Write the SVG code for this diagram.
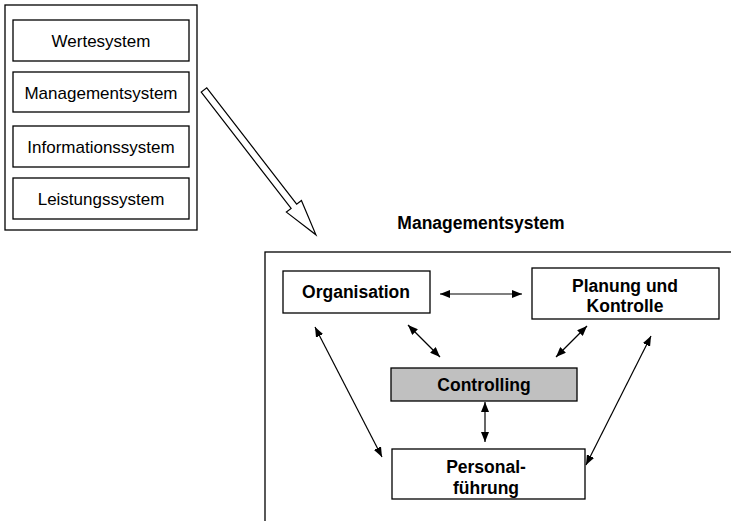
<svg xmlns="http://www.w3.org/2000/svg" width="731" height="521" viewBox="0 0 731 521">
<style>
.box{fill:#fff;stroke:#000;stroke-width:1.3}
.gray{fill:#c0c0c0;stroke:#000;stroke-width:1.3}
.t{font-family:"Liberation Sans",Arial,sans-serif;font-size:17px;text-anchor:middle;dominant-baseline:central;fill:#000}
.b{font-weight:bold;font-size:17.5px}
.c{stroke:#000;stroke-width:1.2;fill:none;marker-start:url(#ah);marker-end:url(#ah)}
</style>
<defs>
<marker id="ah" viewBox="0 0 10 8" refX="10" refY="4" markerWidth="10" markerHeight="8" markerUnits="userSpaceOnUse" orient="auto-start-reverse">
<path d="M0,0 L10,4 L0,8 Z" fill="#000"/>
</marker>
</defs>
<rect width="731" height="521" fill="#fff"/>
<g id="systeme">
<rect class="box" x="5" y="5" width="192" height="225"/>
</g>
<g id="wertesystem"><rect class="box" x="13" y="20" width="176" height="41"/><text class="t" x="101" y="41">Wertesystem</text></g>
<g id="managementsystem"><rect class="box" x="13" y="72" width="176" height="40"/><text class="t" x="101" y="93">Managementsystem</text></g>
<g id="informationssystem"><rect class="box" x="13" y="126" width="176" height="41"/><text class="t" x="101" y="147">Informationssystem</text></g>
<g id="leistungssystem"><rect class="box" x="13" y="178" width="176" height="41"/><text class="t" x="101" y="199">Leistungssystem</text></g>
<g id="bigarrow">
<polygon transform="translate(204,90) rotate(52.3)" points="0,-3.5 147,-3.5 147,-9.5 183,0 147,9.5 147,3.5 0,3.5" fill="#fff" stroke="#000" stroke-width="1.2"/>
</g>
<g id="ms-title"><text class="t b" x="481" y="223">Managementsystem</text></g>
<g id="ms-frame"><rect class="box" x="265" y="252" width="480" height="290"/></g>
<g id="organisation"><rect class="box" x="283" y="271" width="147" height="42"/><text class="t b" x="356" y="292">Organisation</text></g>
<g id="planung"><rect class="box" x="532" y="268" width="187" height="51"/><text class="t b" x="625" y="286">Planung und</text><text class="t b" x="625" y="306">Kontrolle</text></g>
<g id="controlling"><rect class="gray" x="391" y="368" width="186" height="33"/><text class="t b" x="484" y="385">Controlling</text></g>
<g id="personal"><rect class="box" x="392" y="449" width="193" height="50"/><text class="t b" x="486" y="467">Personal-</text><text class="t b" x="486" y="488">führung</text></g>
<g id="connectors">
<line class="c" x1="440" y1="294" x2="522" y2="294"/>
<line class="c" x1="408" y1="325" x2="440" y2="357"/>
<line class="c" x1="587" y1="326" x2="556" y2="357"/>
<line class="c" x1="485" y1="402" x2="485" y2="442"/>
<line class="c" x1="315" y1="327" x2="382" y2="457"/>
<line class="c" x1="651" y1="336" x2="586" y2="465"/>
</g>
</svg>
